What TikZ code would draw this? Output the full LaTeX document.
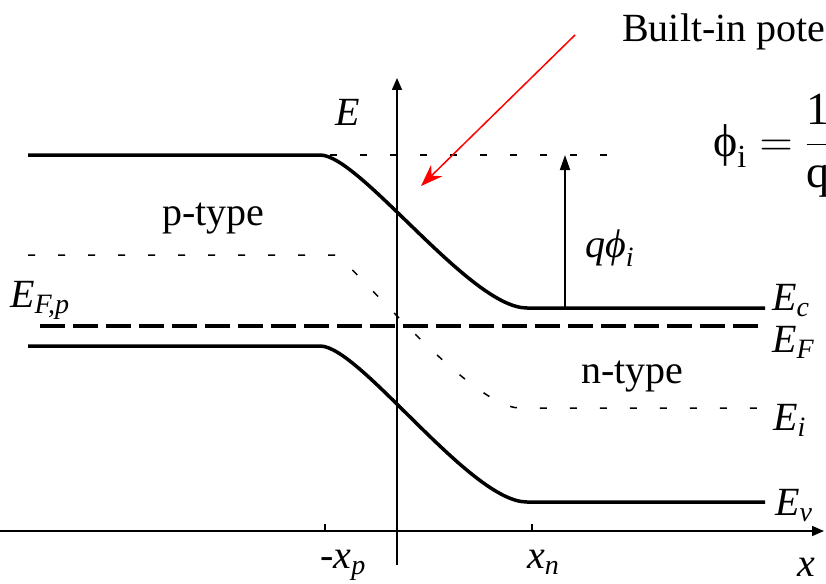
\documentclass[tikz,border=0pt]{standalone}
\usepackage{fix-cm}
\usepackage{amsmath}
\usepackage{fontspec}
\setmainfont{Liberation Serif}
\usetikzlibrary{arrows.meta}

\begin{document}
\begin{tikzpicture}[
      x=1pt, y=-1pt,
      lbl/.style={inner sep=0pt, anchor=base west, font=\fontsize{40}{48}\selectfont},
      band/.style={line width=3.5pt},
      thin dots/.style={line width=1.5pt, dash pattern=on 7pt off 23pt},
      fermi/.style={line width=4pt, dash pattern=on 25pt off 8pt},
      axis/.style={line width=1.6pt, -{Triangle[length=12pt, width=10pt]}},
      arr/.style={line width=1.8pt, -{Triangle[length=15pt, width=10pt]}},
      red arr/.style={red, line width=1.5pt, -{Stealth[length=22pt, width=16pt]}},
    ]
    \useasboundingbox (0,0) rectangle (826,583);
    \coordinate (yb) at (397,565);
    \coordinate (yt) at (397,78);
    \coordinate (xl) at (0,531);
    \coordinate (xr) at (824,531);
    \coordinate (pt) at (325,524);
    \coordinate (pb) at (325,531);
    \coordinate (nt) at (532,524);
    \coordinate (nb) at (532,531);
    \coordinate (qb) at (565,308);
    \coordinate (qt) at (565,155);
    \coordinate (rs) at (575,35);
    \coordinate (re) at (421,186);
    \draw[axis] (xl) -- (xr);
    \draw[axis] (yb) -- (yt);
    \draw[line width=1.6pt] (pb) -- (pt);
    \draw[line width=1.6pt] (nb) -- (nt);
    \draw[thin dots] (330,155) -- (612,155);
    \draw[band] (28,155) -- (320,155) .. controls (360,155) and (470,308) .. (527,308) -- (765,308);
    \draw[band] (28,346) -- (320,346) .. controls (360,346) and (470,502) .. (527,502) -- (765,502);
    \draw[thin dots] (28,255) -- (335,255) .. controls (345,255) and (470,408) .. (520,408) -- (765,408);
    \draw[fermi] (40,326) -- (760,326);
    \draw[arr] (qb) -- (qt);
    \draw[red arr] (rs) -- (re);
    \node[lbl] (elab)  at (335,125) {\textit{E}};
    \node[lbl] (efp)   at (10,307)  {$\textit{E}_{\textit{F,p}}$};
    \node[lbl] (ec)    at (772,310) {$\textit{E}_{\textit{c}}$};
    \node[lbl] (ef)    at (772,352) {$\textit{E}_{\textit{F}}$};
    \node[lbl] (ei)    at (773,430) {$\textit{E}_{\textit{i}}$};
    \node[lbl] (ev)    at (775,515) {$\textit{E}_{\textit{v}}$};
    \node[lbl] (xpl)   at (320,568) {-$\textit{x}_{\textit{p}}$};
    \node[lbl] (xnl)   at (527,568) {$\textit{x}_{\textit{n}}$};
    \node[lbl] (xlab)  at (797,576) {\textit{x}};
    \node[lbl] (qphi)  at (585,257) {$\textit{qϕ}_{\textit{i}}$};
    \node[lbl] (ptype) at (162,225) {p-type};
    \node[lbl] (ntype) at (581,383) {n-type};
    \node[lbl] (title) at (622,42)  {Built-in potential};
    \node[lbl, font=\fontsize{46}{54}\selectfont] (form) at (713,156)
      {$\displaystyle \text{ϕ}_{\text{i}} = \frac{\text{1}}{\text{q}}$};
  \end{tikzpicture}
\end{document}
